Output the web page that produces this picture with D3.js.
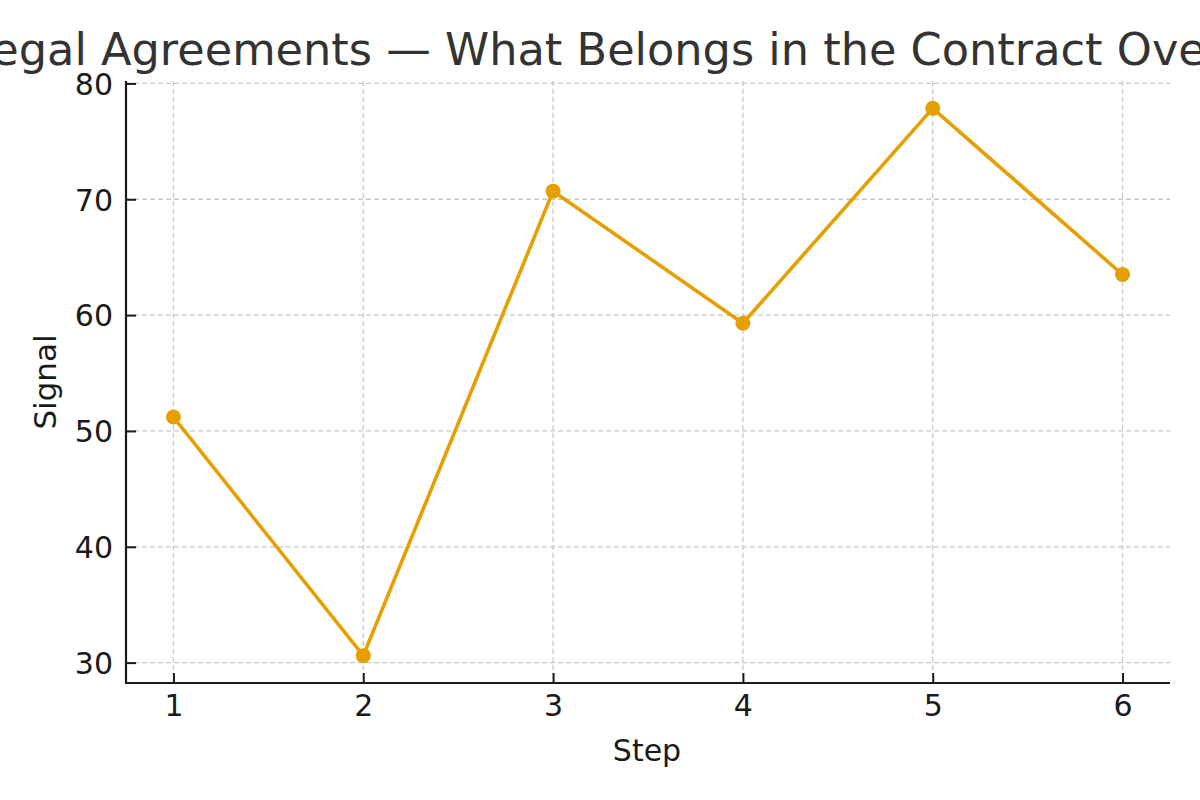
<!DOCTYPE html>
<html><head><meta charset="utf-8">
<script src="https://cdn.jsdelivr.net/npm/d3@7"></script>
<style>body{margin:0;background:#fff;} svg{display:block;font-family:"DejaVu Sans",sans-serif;}</style>
</head><body>
<svg id="c" width="1200" height="800"></svg>
<script>
const title = "Legal Agreements — What Belongs in the Contract Overview";
const steps = [1, 2, 3, 4, 5, 6];
const signal = [51.2, 30.6, 70.7, 59.3, 77.85, 63.5];
const xTicks = [1, 2, 3, 4, 5, 6];
const yTicks = [30, 40, 50, 60, 70, 80];
const xLabel = "Step", yLabel = "Signal";

const svg = d3.select("#c");
const L = 126, R = 1170, T = 81, B = 683;
const x = d3.scaleLinear().domain([0.75, 6.25]).range([L, R]);
const y = d3.scaleLinear().domain([28.24, 80.21]).range([B, T]);

// grid
const g = svg.append("g");
g.selectAll(".vg").data(xTicks).join("line")
  .attr("x1", d => x(d)).attr("x2", d => x(d)).attr("y1", T).attr("y2", B)
  .attr("stroke", "#c8c8c8").attr("stroke-width", 1.3).attr("stroke-dasharray", "5,3");
g.selectAll(".hg").data(yTicks).join("line")
  .attr("x1", L).attr("x2", R).attr("y1", d => y(d)).attr("y2", d => y(d))
  .attr("stroke", "#c8c8c8").attr("stroke-width", 1.3).attr("stroke-dasharray", "5,3");

// axes
const xAxis = d3.axisBottom(x).tickValues(xTicks).tickFormat(d3.format("d")).tickSizeInner(-10).tickSizeOuter(0);
const yAxis = d3.axisLeft(y).tickValues(yTicks).tickFormat(d3.format("d")).tickSizeInner(-10).tickSizeOuter(0);
const gx = svg.append("g").attr("transform", `translate(0,${B})`).call(xAxis);
const gy = svg.append("g").attr("transform", `translate(${L},0)`).call(yAxis);
[gx, gy].forEach(a => {
  a.select(".domain").remove();
  a.selectAll(".tick line").attr("stroke", "#1a1a1a").attr("stroke-width", 2);
  a.selectAll(".tick text").attr("fill", "#1a1a1a").attr("font-size", 30).attr("font-family", "DejaVu Sans");
});
gx.selectAll(".tick text").attr("dy", "0.71em").attr("y", 12);
gy.selectAll(".tick text").attr("x", -13).attr("dy", "0.36em");
svg.append("line").attr("x1", L).attr("x2", L).attr("y1", T).attr("y2", B).attr("stroke", "#1a1a1a").attr("stroke-width", 2.2);
svg.append("line").attr("x1", L - 1).attr("x2", R).attr("y1", B).attr("y2", B).attr("stroke", "#1a1a1a").attr("stroke-width", 2.2);

// line
const pts = steps.map((s, i) => [s, signal[i]]);
svg.append("path").datum(pts)
  .attr("d", d3.line().x(d => x(d[0])).y(d => y(d[1])))
  .attr("fill", "none").attr("stroke", "#E69F00").attr("stroke-width", 3.6).attr("stroke-linejoin", "round");
svg.selectAll(".pt").data(pts).join("circle")
  .attr("cx", d => x(d[0])).attr("cy", d => y(d[1])).attr("r", 7.5).attr("fill", "#E69F00");

// labels
svg.append("text").attr("x", 647).attr("y", 761).attr("text-anchor", "middle")
  .attr("font-size", 30).attr("fill", "#1a1a1a").text(xLabel);
svg.append("text").attr("transform", `translate(56,${(T + B) / 2}) rotate(-90)`).attr("text-anchor", "middle")
  .attr("font-size", 31).attr("fill", "#1a1a1a").text(yLabel);

// title: size and position fitted so that it is cut at the edges like the reference
const tt = svg.append("text").attr("x", 0).attr("y", 65).attr("text-anchor", "start")
  .attr("font-size", 44).attr("fill", "#333").text(title);
const node = tt.node();
const iA = title.indexOf("Agreements"), iO = title.indexOf("Overview");
const ax0 = node.getExtentOfChar(iA).x, ox0 = node.getExtentOfChar(iO).x;
const fs = 44 * (1117 - 101) / (ox0 - ax0);
tt.attr("font-size", fs);
const ax1 = node.getExtentOfChar(iA).x;
tt.attr("x", 101 - ax1);
</script>
</body></html>
